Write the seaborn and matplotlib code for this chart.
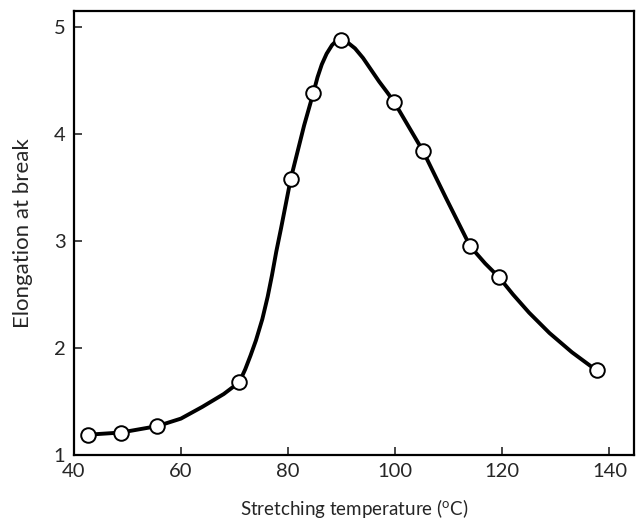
import numpy as np
import matplotlib
matplotlib.use("Agg")
import matplotlib.pyplot as plt
import pandas as pd
import seaborn as sns

# measured points (open circles)
temp = [42.7, 48.8, 55.6, 70.9, 80.5, 84.7, 89.9, 99.8, 105.2, 114.0, 119.4, 137.6]
elong = [1.19, 1.21, 1.27, 1.68, 3.58, 4.38, 4.88, 4.30, 3.84, 2.95, 2.66, 1.79]

# hand-drawn curve
curve_t = [42.7, 48.8, 55.6, 60.0, 64.0, 68.0, 70.9, 72.0, 73.0, 74.0, 75.2, 76.2,
           77.0, 77.8, 78.7, 79.6, 80.5, 81.5, 83.0, 84.7, 85.5, 86.3, 87.2, 88.2,
           89.0, 89.9, 91.0, 92.5, 94.0, 95.5, 97.0, 98.5, 99.8, 102.5, 105.2,
           109.5, 114.0, 116.8, 119.4, 122.0, 125.0, 128.8, 133.0, 137.6]
curve_e = [1.19, 1.21, 1.27, 1.34, 1.45, 1.57, 1.68, 1.80, 1.93, 2.07, 2.27, 2.48,
           2.68, 2.90, 3.12, 3.35, 3.58, 3.78, 4.08, 4.38, 4.53, 4.65, 4.75, 4.83,
           4.87, 4.88, 4.86, 4.80, 4.71, 4.60, 4.49, 4.39, 4.30, 4.07, 3.84,
           3.40, 2.95, 2.79, 2.66, 2.50, 2.33, 2.14, 1.96, 1.79]

x_ticks = [40, 60, 80, 100, 120, 140]
y_ticks = [1, 2, 3, 4, 5]

pts = pd.DataFrame({"t": temp, "e": elong})
curve = pd.DataFrame({"t": curve_t, "e": curve_e})

sns.set_style("ticks")
plt.rcParams["font.family"] = ["Lato", "DejaVu Sans"]
plt.rcParams["mathtext.default"] = "regular"

fig = plt.figure(figsize=(6.36, 5.2), dpi=100)
ax = fig.add_axes([0.116, 0.125, 0.881, 0.854])

sns.lineplot(data=curve, x="t", y="e", color="black", linewidth=2.8,
             sort=False, ax=ax)
ax.plot(pts["t"], pts["e"], linestyle="none", marker="o", markersize=10.5,
        markerfacecolor="white", markeredgecolor="black", markeredgewidth=1.4,
        zorder=5)

ax.set_xlim(40.6, 144.6)
ax.set_ylim(1.0, 5.15)
ax.set_xticks(x_ticks)
ax.set_yticks(y_ticks)
ax.tick_params(direction="in", length=6, width=1.2, labelsize=14.5,
               top=False, right=False, pad=6)

for s in ax.spines.values():
    s.set_linewidth(1.6)
    s.set_color("black")

ax.set_xlabel(r"Stretching temperature ($^{o}$C)", fontsize=13.5)
ax.set_ylabel("Elongation at break", fontsize=16)
ax.xaxis.set_label_coords(0.5, -0.095)
ax.yaxis.set_label_coords(-0.072, 0.5)

fig.savefig("out.png", dpi=100)
